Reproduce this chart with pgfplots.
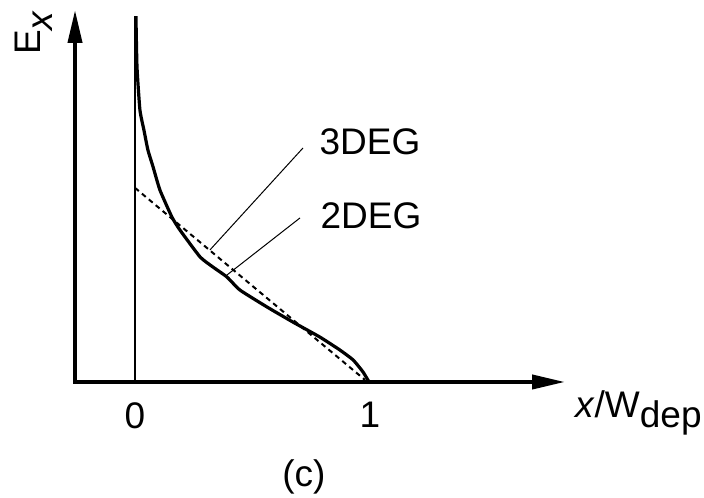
\documentclass[border=0pt]{standalone}
\usepackage{pgfplots}
\pgfplotsset{compat=1.18}
\usepackage{fontspec}
\setmainfont{Liberation Sans}
\usetikzlibrary{arrows.meta}

\begin{document}
\begin{tikzpicture}
\begin{axis}[
    x=235pt, y=235pt,
    xmin=-0.2553, xmax=1.8298,
    ymin=0, ymax=1.583,
    axis lines=left,
    axis line style={line width=4pt, line cap=rect},
    every outer x axis line/.append style={-{Triangle[length=33pt,width=14pt]}},
    every outer y axis line/.append style={-{Triangle[length=33pt,width=14pt]}},
    xtick={0,1},
    xticklabels={\mbox{0},\mbox{1}},
    ytick=\empty,
    major tick length=0pt,
    xticklabel style={font=\fontsize{37}{44}\selectfont, anchor=north, inner sep=0pt, yshift=-20pt},
    clip=false,
]

% vertical reference line at x = 0
\addplot[black, line width=2.6pt] coordinates {(0,0) (0,1.557)};

% solid curve (2DEG)
\addplot[black, line width=3.2pt, line join=round, smooth, tension=0.3] coordinates {
    (0.004,1.557) (0.0085,1.340) (0.021,1.157) (0.038,1.072) (0.055,0.987)
    (0.077,0.915) (0.106,0.817) (0.157,0.702) (0.191,0.647) (0.277,0.532)
    (0.332,0.489) (0.391,0.447) (0.447,0.391) (0.562,0.319) (0.672,0.255)
    (0.787,0.191) (0.872,0.136) (0.928,0.094) (0.970,0.043) (0.996,0)
};

% dashed line (3DEG)
\addplot[black, line width=2pt, dash pattern=on 5pt off 4pt] coordinates {
    (0,0.826) (0.979,0.0085)
};

% leader lines
\draw[black, line width=1pt] (axis cs:0.715,0.996) -- (axis cs:0.319,0.562);
\draw[black, line width=1pt] (axis cs:0.702,0.698) -- (axis cs:0.391,0.455);

\node[font=\fontsize{37}{44}\selectfont, inner sep=0pt] at (axis cs:1.0,1.021) {3DEG};
\node[font=\fontsize{37}{44}\selectfont, inner sep=0pt] at (axis cs:1.004,0.706) {2DEG};

% axis labels
\node[font=\fontsize{37}{44}\selectfont, inner sep=0pt, rotate=90, anchor=base west]
    at (axis cs:-0.404,1.391) {E\raisebox{-12pt}{\textit{x}}};
\node[font=\fontsize{37}{44}\selectfont, inner sep=0pt, anchor=base west]
    at (axis cs:1.872,-0.149) {\textit{x}/W\raisebox{-10pt}{dep}};
\node[font=\fontsize{37}{44}\selectfont, inner sep=0pt, anchor=base]
    at (axis cs:0.719,-0.443) {(c)};

\coordinate (bl) at (axis cs:-0.5745,-0.4936);
\coordinate (tr) at (axis cs:2.4213,1.6255);
\end{axis}
\pgfresetboundingbox
\path[use as bounding box] (bl) rectangle (tr);
\end{tikzpicture}
\end{document}
